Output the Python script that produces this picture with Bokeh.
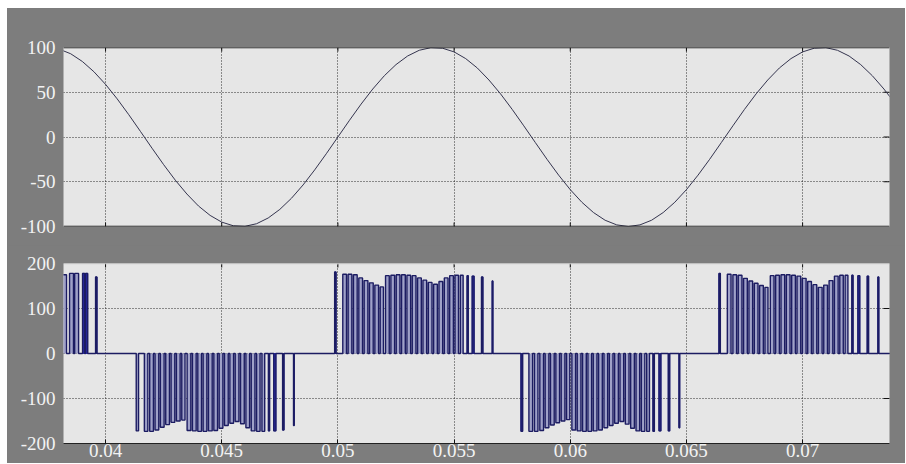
from bokeh.plotting import figure
from bokeh.layouts import column
from bokeh.models import Range1d, FixedTicker, ColumnDataSource, Span
from bokeh.embed import file_html
from bokeh.resources import INLINE

# ---------------- data ----------------
x_ticks = [0.04, 0.045, 0.05, 0.055, 0.06, 0.065, 0.07]
x_tick_labels = ["0.04", "0.045", "0.05", "0.055", "0.06", "0.065", "0.07"]
top_y_ticks = [-100, -50, 0, 50, 100]
top_y_labels = ["-100", "-50", "0", "50", "100"]
bot_y_ticks = [-200, -100, 0, 100, 200]
bot_y_labels = ["-200", "-100", "0", "100", "200"]

# reference sine (ms, value)
sine_t_ms = [37.5, 38.0, 38.5, 39.0, 39.5, 40.0, 40.5, 41.0, 41.5, 42.0, 42.5,
             43.0, 43.5, 44.0, 44.5, 45.0, 45.5, 46.0, 46.5, 47.0, 47.5,
             48.0, 48.5, 49.0, 49.5, 50.0, 50.5, 51.0, 51.5, 52.0, 52.5,
             53.0, 53.5, 54.0, 54.5, 55.0, 55.5, 56.0, 56.5, 57.0, 57.5,
             58.0, 58.5, 59.0, 59.5, 60.0, 60.5, 61.0, 61.5, 62.0, 62.5,
             63.0, 63.5, 64.0, 64.5, 65.0, 65.5, 66.0, 66.5, 67.0, 67.5,
             68.0, 68.5, 69.0, 69.5, 70.0, 70.5, 71.0, 71.5, 72.0, 72.5,
             73.0, 73.5, 74.0]
sine_val = [100.0, 98.2, 93.0, 84.4, 72.9, 58.8, 42.6, 24.9, 6.3, -12.5, -30.9,
            -48.2, -63.7, -77.1, -87.6, -95.1, -99.2, -99.8, -96.9, -90.5, -80.9,
            -68.5, -53.6, -36.8, -18.7, 0.0, 18.7, 36.8, 53.6, 68.5, 80.9,
            90.5, 96.9, 99.8, 99.2, 95.1, 87.6, 77.1, 63.7, 48.2, 30.9,
            12.5, -6.3, -24.9, -42.6, -58.8, -72.9, -84.4, -93.0, -98.2, -100.0,
            -98.2, -93.0, -84.4, -72.9, -58.8, -42.6, -24.9, -6.3, 12.5, 30.9,
            48.2, 63.7, 77.1, 87.6, 95.1, 99.2, 99.8, 96.9, 90.5, 80.9,
            68.5, 53.6, 36.8]

# PWM pulses: start (ms), width (ms), level
a_start = [38.10, 38.45, 38.67, 39.01, 39.14, 39.57]
a_width = [0.22, 0.17, 0.17, 0.09, 0.09, 0.06]
a_level = [175, 178, 178, 178, 178, 170]

b_start = [41.32, 41.67, 41.90, 42.13, 42.36, 42.59, 42.82, 43.05, 43.28, 43.51,
           43.74, 43.97, 44.20, 44.43, 44.66, 44.89, 45.12, 45.35, 45.58, 45.81,
           46.04, 46.27, 46.50, 46.73, 47.01, 47.24, 47.62, 48.09]
b_width = [0.10, 0.15, 0.16, 0.16, 0.16, 0.16, 0.16, 0.16, 0.14, 0.16,
           0.16, 0.16, 0.16, 0.16, 0.16, 0.16, 0.16, 0.16, 0.16, 0.16,
           0.16, 0.16, 0.15, 0.12, 0.05, 0.09, 0.06, 0.03]
b_level = [-172, -173, -173, -170, -164, -158, -153, -150, -148, -171,
           -172, -173, -173, -172, -171, -166, -160, -155, -151, -156,
           -165, -172, -173, -173, -172, -172, -170, -160]

c_start = [49.86, 50.21, 50.44, 50.67, 50.90, 51.13, 51.36, 51.59, 51.82, 52.05,
           52.28, 52.51, 52.74, 52.97, 53.20, 53.43, 53.66, 53.89, 54.12, 54.35,
           54.58, 54.81, 55.04, 55.27, 55.56, 55.78, 56.18, 56.64]
c_width = [0.06, 0.16, 0.16, 0.16, 0.16, 0.16, 0.16, 0.16, 0.14, 0.16,
           0.16, 0.16, 0.16, 0.16, 0.16, 0.16, 0.16, 0.16, 0.16, 0.16,
           0.16, 0.16, 0.15, 0.12, 0.05, 0.08, 0.06, 0.03]
c_level = [181, 176, 176, 175, 168, 162, 157, 152, 148, 173,
           174, 175, 175, 174, 173, 168, 163, 158, 154, 160,
           168, 173, 174, 174, 173, 172, 170, 161]

d_start = [57.88, 58.22, 58.46, 58.69, 58.92, 59.15, 59.38, 59.61, 59.84, 60.07,
           60.30, 60.53, 60.76, 60.99, 61.22, 61.45, 61.68, 61.91, 62.14, 62.37,
           62.60, 62.83, 63.06, 63.29, 63.56, 63.82, 64.22, 64.68]
d_width = [0.07, 0.16, 0.15, 0.16, 0.16, 0.16, 0.16, 0.16, 0.14, 0.16,
           0.16, 0.16, 0.16, 0.16, 0.16, 0.16, 0.16, 0.16, 0.16, 0.16,
           0.16, 0.16, 0.15, 0.12, 0.06, 0.08, 0.06, 0.03]
d_level = [-173, -173, -173, -171, -165, -159, -154, -150, -147, -170,
           -172, -173, -173, -172, -170, -165, -160, -155, -151, -157,
           -166, -172, -173, -173, -173, -172, -172, -165]

e_start = [66.40, 66.76, 67.00, 67.23, 67.46, 67.69, 67.92, 68.15, 68.38, 68.61,
           68.84, 69.07, 69.30, 69.53, 69.76, 69.99, 70.22, 70.45, 70.68, 70.91,
           71.14, 71.37, 71.60, 71.83, 72.12, 72.38, 72.78, 73.24]
e_width = [0.06, 0.16, 0.16, 0.16, 0.16, 0.16, 0.16, 0.16, 0.13, 0.16,
           0.16, 0.16, 0.16, 0.16, 0.16, 0.16, 0.16, 0.16, 0.16, 0.16,
           0.16, 0.16, 0.15, 0.12, 0.05, 0.08, 0.06, 0.04]
e_level = [178, 176, 175, 174, 167, 161, 156, 151, 147, 173,
           174, 175, 175, 174, 172, 167, 160, 153, 147, 152,
           162, 172, 174, 174, 174, 173, 172, 170]

# ---------------- styling ----------------
X0, X1 = 0.03819, 0.07374
BG = "#7d7d7d"
PANEL = "#e6e6e6"
FONT = "Liberation Serif"
LABEL_COLOR = "#f2f2f2"
FONT_SIZE = "19px"
W = 898
ML, MR = 56, 16
FRAME_W = W - ML - MR
TICK_PX = 4
RTICK_PX = 6


def make_fig(height, ymin, ymax, yticks, ylabels, mbt, mbb, frame_h, show_x, top_line, bot_line):
    p = figure(width=W, height=height, x_range=Range1d(X0, X1), y_range=Range1d(ymin, ymax),
               output_backend="svg", toolbar_location=None,
               x_axis_location="below" if show_x else None, y_axis_location="left",
               min_border_left=ML, min_border_right=MR, min_border_top=mbt, min_border_bottom=mbb)
    p.background_fill_color = PANEL
    p.border_fill_color = BG
    p.outline_line_color = None

    xt = FixedTicker(ticks=x_ticks)
    yt = FixedTicker(ticks=yticks)

    for g, t in ((p.xgrid, xt), (p.ygrid, yt)):
        g.ticker = t
        g.grid_line_color = "#1a1a1a"
        g.grid_line_dash = "1 2"
        g.grid_line_width = 1
        g.grid_line_alpha = 0.9

    ya = p.yaxis[0]
    ya.ticker = yt
    ya.major_label_overrides = {t: l for t, l in zip(yticks, ylabels)}
    ya.axis_line_color = None
    ya.major_tick_line_color = None
    ya.minor_tick_line_color = None
    ya.major_label_text_font = FONT
    ya.major_label_text_font_size = FONT_SIZE
    ya.major_label_text_color = LABEL_COLOR
    ya.major_label_standoff = 2

    if show_x:
        xa = p.xaxis[0]
        xa.ticker = xt
        xa.major_label_overrides = {t: l for t, l in zip(x_ticks, x_tick_labels)}
        xa.axis_line_color = bot_line
        xa.major_tick_line_color = "#111111"
        xa.major_tick_in = TICK_PX
        xa.major_tick_out = 0
        xa.minor_tick_line_color = None
        xa.major_label_text_font = FONT
        xa.major_label_text_font_size = FONT_SIZE
        xa.major_label_text_color = LABEL_COLOR
        xa.major_label_standoff = 0
    else:
        p.add_layout(Span(location=ymin, dimension="width", line_color=bot_line, line_width=1.5))
        dy = TICK_PX * (ymax - ymin) / frame_h
        p.segment(x0=x_ticks, x1=x_ticks, y0=[ymin] * len(x_ticks), y1=[ymin + dy] * len(x_ticks),
                  line_color="#111111", line_width=1)

    # top frame line and inward ticks
    p.add_layout(Span(location=ymax, dimension="width", line_color=top_line, line_width=1.5))
    dy = TICK_PX * (ymax - ymin) / frame_h
    p.segment(x0=x_ticks, x1=x_ticks, y0=[ymax] * len(x_ticks), y1=[ymax - dy] * len(x_ticks),
              line_color="#111111", line_width=1)
    # right inward ticks
    inner = [v for v in yticks if ymin < v < ymax]
    dx = RTICK_PX * (X1 - X0) / FRAME_W
    p.segment(x0=[X1] * len(inner), x1=[X1 - dx] * len(inner), y0=inner, y1=inner,
              line_color="#111111", line_width=1)
    return p


top = make_fig(237, -100, 100, top_y_ticks, top_y_labels, 39, 19, 179, False, "#111111", "#111111")
top.line([t / 1000 for t in sine_t_ms], sine_val, line_color="#34344e", line_width=1.0)

bot = make_fig(218, -200, 200, bot_y_ticks, bot_y_labels, 18, 20, 180, True, "#cfcfcf", "#222222")

starts = a_start + b_start + c_start + d_start + e_start
widths = a_width + b_width + c_width + d_width + e_width
levels = a_level + b_level + c_level + d_level + e_level
pulses = sorted(zip(starts, widths, levels))

wide = dict(left=[], right=[], bottom=[], top=[])
narrow = dict(left=[], right=[], bottom=[], top=[])
sx, sy = [X0 - 0.001], [0]
for s, w, lv in pulses:
    l, r = s / 1000, (s + w) / 1000
    d = narrow if w < 0.1 else wide
    d["left"].append(l); d["right"].append(r)
    d["bottom"].append(min(0, lv)); d["top"].append(max(0, lv))
    sx += [l, l, r, r]
    sy += [0, lv, lv, 0]
sx.append(X1 + 0.001); sy.append(0)

bot.quad(source=ColumnDataSource(wide), left="left", right="right", bottom="bottom", top="top",
         fill_color="#9fa1c8", line_color=None)
bot.quad(source=ColumnDataSource(narrow), left="left", right="right", bottom="bottom", top="top",
         fill_color="#2a2aae", line_color="#2a2aae", line_width=1)
bot.line(sx, sy, line_color="#1c1c62", line_width=1.4)

layout = column(top, bot, spacing=0, margin=(8, 0, 0, 7), styles={"background-color": BG})
open("out.html", "w").write(file_html(layout, INLINE))
